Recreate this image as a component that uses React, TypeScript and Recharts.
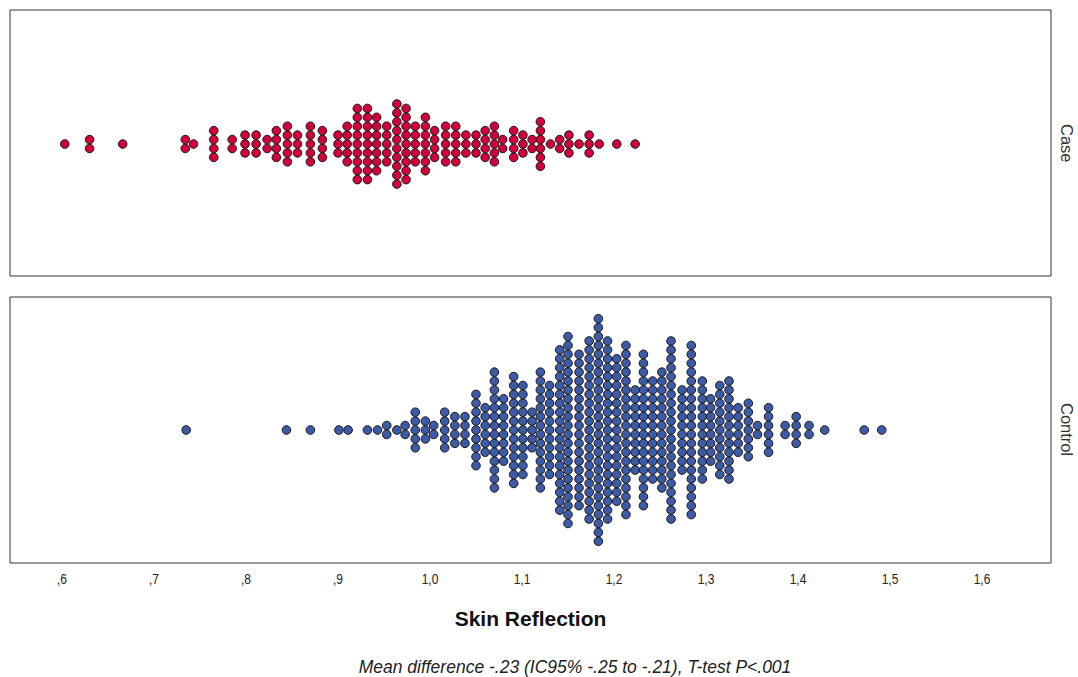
import React from "react";
import {
  ScatterChart,
  Scatter,
  XAxis,
  YAxis,
  ReferenceArea,
} from "recharts";

// Case group: bin centre (skin reflection) and number of stacked dots
const caseValues = [
  0.603, 0.63, 0.666, 0.734, 0.743, 0.765, 0.785, 0.799, 0.811, 0.823, 0.833,
  0.845, 0.856, 0.87, 0.883, 0.9, 0.91, 0.921, 0.932, 0.942, 0.953, 0.964,
  0.974, 0.984, 0.995, 1.005, 1.017, 1.028, 1.039, 1.05, 1.06, 1.07, 1.079,
  1.091, 1.101, 1.111, 1.12, 1.131, 1.141, 1.151, 1.162, 1.173, 1.184, 1.203,
  1.223,
];
const caseCounts = [
  1, 2, 1, 2, 1, 4, 2, 3, 3, 2, 4, 5, 3, 5, 4, 3, 5, 9, 9, 7, 5, 10, 9, 5, 7,
  4, 5, 5, 3, 3, 4, 5, 2, 4, 3, 2, 6, 1, 2, 3, 1, 3, 1, 1, 1,
];

// Control group
const controlValues = [
  0.735, 0.844, 0.87, 0.901, 0.911, 0.932, 0.943, 0.953, 0.964, 0.973, 0.984,
  0.995, 1.004, 1.016, 1.027, 1.038, 1.05, 1.06, 1.07, 1.08, 1.091, 1.101,
  1.111, 1.12, 1.13, 1.141, 1.15, 1.162, 1.173, 1.183, 1.193, 1.203, 1.213,
  1.223, 1.232, 1.242, 1.252, 1.262, 1.274, 1.284, 1.296, 1.305, 1.315, 1.325,
  1.335, 1.346, 1.356, 1.368, 1.386, 1.398, 1.412, 1.429, 1.472, 1.491,
];
const controlCounts = [
  1, 1, 1, 1, 1, 1, 1, 2, 1, 2, 5, 3, 2, 5, 4, 4, 9, 6, 14, 8, 13, 11, 5, 14,
  11, 19, 22, 18, 21, 26, 21, 17, 20, 10, 18, 12, 14, 21, 10, 20, 12, 8, 11,
  12, 6, 7, 2, 6, 2, 4, 2, 1, 1, 1,
];

const xTicks = [0.6, 0.7, 0.8, 0.9, 1.0, 1.1, 1.2, 1.3, 1.4, 1.5, 1.6];

const X_DOMAIN: [number, number] = [0.5435, 1.675];
const FONT = '"Liberation Sans", Arial, sans-serif';

// stack dots of each bin symmetrically around the centre line
function stack(values: number[], counts: number[]) {
  const pts: { x: number; y: number }[] = [];
  values.forEach((v, i) => {
    const n = counts[i];
    for (let k = 0; k < n; k++) pts.push({ x: v, y: k - (n - 1) / 2 });
  });
  return pts;
}

const caseData = stack(caseValues, caseCounts);
const controlData = stack(controlValues, controlCounts);

const dot = (fill: string) => (props: any) =>
  <circle cx={props.cx} cy={props.cy} r={4.3} fill={fill} stroke="#1a1a1a" strokeWidth={1} />;

const fmtTick = (v: number) => {
  const s = v.toFixed(1).replace(".", ",");
  return s.startsWith("0") ? s.slice(1) : s;
};

// SPSS uses a condensed font for tick labels
function NarrowTick(props: any) {
  const { x, y, payload } = props;
  return (
    <text
      transform={`translate(${x},${y + 13}) scale(0.8,1)`}
      textAnchor="middle"
      fontSize={15}
      fontFamily={FONT}
      fill="#222"
    >
      {fmtTick(payload.value)}
    </text>
  );
}

function Panel({
  data,
  fill,
  yDomain,
  showAxis,
}: {
  data: { x: number; y: number }[];
  fill: string;
  yDomain: [number, number];
  showAxis: boolean;
}) {
  return (
    <ScatterChart
      width={1078}
      height={showAxis ? 306 : 286}
      margin={{ top: 10, right: 27, bottom: showAxis ? 0 : 10, left: 10 }}
    >
      <XAxis
        type="number"
        dataKey="x"
        domain={X_DOMAIN}
        allowDataOverflow
        ticks={xTicks}
        hide={!showAxis}
        axisLine={false}
        tickLine={false}
        height={30}
        tick={<NarrowTick />}
      />
      <YAxis type="number" dataKey="y" domain={yDomain} allowDataOverflow hide />
      <ReferenceArea
        x1={X_DOMAIN[0]}
        x2={X_DOMAIN[1]}
        y1={yDomain[0]}
        y2={yDomain[1]}
        fill="none"
        stroke="#333"
        strokeWidth={1}
        fillOpacity={0}
      />
      <Scatter data={data} shape={dot(fill)} isAnimationActive={false} />
    </ScatterChart>
  );
}

const sideLabel: React.CSSProperties = {
  position: "absolute",
  left: 1056,
  height: 266,
  width: 20,
  display: "flex",
  alignItems: "center",
  justifyContent: "center",
  writingMode: "vertical-rl",
  fontSize: 16.5,
  color: "#333",
};

export default function App() {
  return (
    <div style={{ position: "absolute", left: 0, top: 0, width: 1078, height: 677, background: "#fff", fontFamily: FONT }}>
      <div style={{ position: "absolute", left: 0, top: 0 }}>
        <Panel data={caseData} fill="#D2003A" yDomain={[-14.83, 15.06]} showAxis={false} />
      </div>
      <div style={{ position: "absolute", left: 0, top: 287 }}>
        <Panel data={controlData} fill="#3D5AA6" yDomain={[-14.94, 14.94]} showAxis />
      </div>
      <div style={{ ...sideLabel, top: 10 }}>Case</div>
      <div style={{ ...sideLabel, top: 297 }}>Control</div>
      <div
        style={{
          position: "absolute",
          left: 10,
          width: 1041,
          top: 607,
          textAlign: "center",
          fontSize: 21,
          fontWeight: "bold",
          color: "#111",
        }}
      >
        Skin Reflection
      </div>
      <div
        style={{
          position: "absolute",
          left: 0,
          width: 1150,
          top: 657,
          textAlign: "center",
          fontSize: 17.5,
          fontStyle: "italic",
          color: "#222",
        }}
      >
        Mean difference -.23 (IC95% -.25 to -.21), T-test P&lt;.001
      </div>
    </div>
  );
}
